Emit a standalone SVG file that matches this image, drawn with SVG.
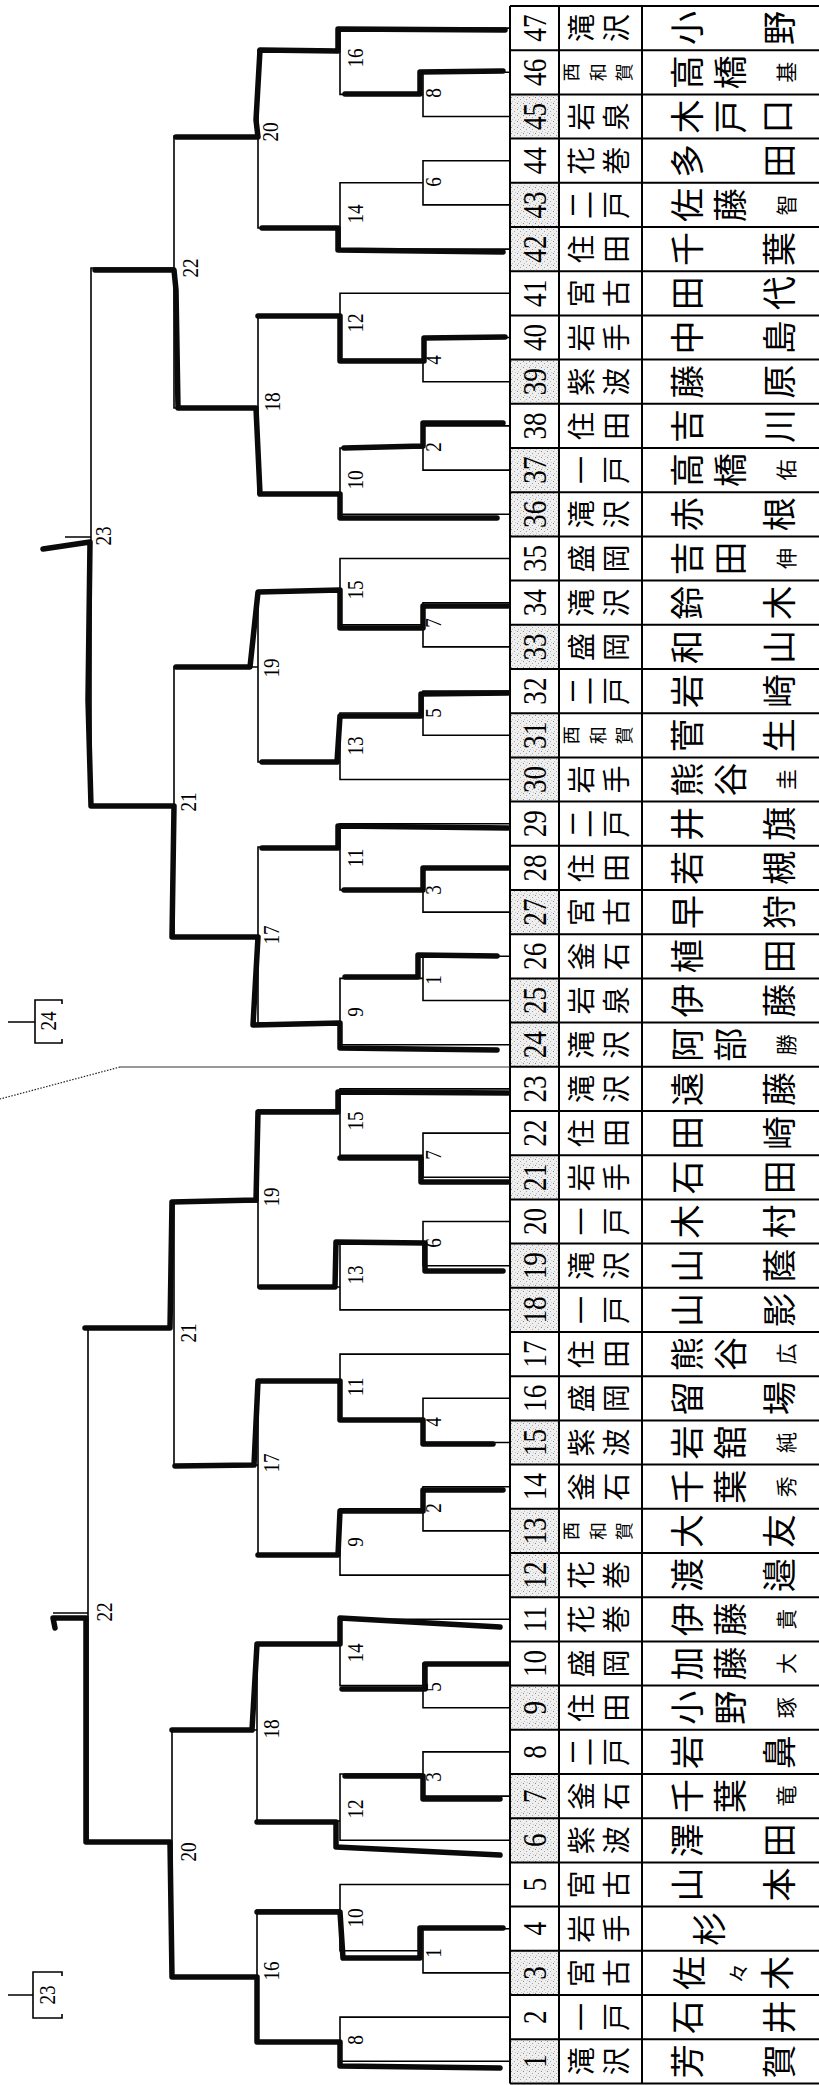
<svg xmlns="http://www.w3.org/2000/svg" width="819" height="2085" viewBox="0 0 819 2085">
<defs>
<pattern id="stip" width="6" height="6" patternUnits="userSpaceOnUse"><rect width="6" height="6" fill="#efefef"/><rect x="1" y="1" width="1" height="1" fill="#8a8a8a"/><rect x="4" y="3" width="1" height="1" fill="#a5a5a5"/><rect x="2" y="5" width="1" height="1" fill="#bdbdbd"/><rect x="5" y="0" width="1" height="1" fill="#c8c8c8"/></pattern>
<style>
.t{stroke:#000;stroke-width:1.6;fill:none}
.k{stroke:#0a0a0a;stroke-width:5.5;fill:none;stroke-linecap:round;stroke-linejoin:round}
.g{stroke:#000;stroke-width:2;fill:none}
.lb{font-family:"Liberation Serif",serif;font-size:24px;text-anchor:middle;dominant-baseline:central;fill:#000}
.no{font-family:"Liberation Serif",serif;font-size:34px;text-anchor:middle;dominant-baseline:central;fill:#000}
.s{font-family:"Noto Sans CJK JP",sans-serif;font-size:28px;text-anchor:middle;dominant-baseline:central;fill:#000}
.s3{font-family:"Noto Sans CJK JP",sans-serif;font-size:18px;text-anchor:middle;dominant-baseline:central;fill:#000}
.m{font-family:"Noto Sans CJK JP",sans-serif;font-size:34px;text-anchor:middle;dominant-baseline:central;fill:#000}
.ms{font-family:"Noto Sans CJK JP",sans-serif;font-size:21px;text-anchor:middle;dominant-baseline:central;fill:#000}
</style>
</defs>
<rect width="819" height="2085" fill="#fff"/>

<g id="table">
<g id="shade" fill="url(#stip)">
<rect x="510" y="94.4" width="49" height="44.2"/><rect x="510" y="182.8" width="49" height="88.4"/><rect x="510" y="359.6" width="49" height="44.2"/><rect x="510" y="448" width="49" height="88.4"/><rect x="510" y="624.8" width="49" height="44.2"/><rect x="510" y="713.2" width="49" height="88.4"/><rect x="510" y="890" width="49" height="44.2"/><rect x="510" y="978.4" width="49" height="88.4"/><rect x="510" y="1155.2" width="49" height="44.2"/><rect x="510" y="1243.6" width="49" height="88.4"/><rect x="510" y="1420.4" width="49" height="44.2"/><rect x="510" y="1508.8" width="49" height="88.4"/><rect x="510" y="1685.6" width="49" height="44.2"/><rect x="510" y="1774" width="49" height="88.4"/><rect x="510" y="1951" width="49" height="44.2"/><rect x="510" y="2039.2" width="49" height="44.2"/>
</g>
<path class="g" d="M510,6H819M510,50.2H819M510,94.4H819M510,138.6H819M510,182.8H819M510,227H819M510,271.2H819M510,315.4H819M510,359.6H819M510,403.8H819M510,448H819M510,492.2H819M510,536.4H819M510,580.6H819M510,624.8H819M510,669H819M510,713.2H819M510,757.4H819M510,801.6H819M510,845.8H819M510,890H819M510,934.2H819M510,978.4H819M510,1022.6H819M510,1066.8H819M510,1111H819M510,1155.2H819M510,1199.4H819M510,1243.6H819M510,1287.8H819M510,1332H819M510,1376.2H819M510,1420.4H819M510,1464.6H819M510,1508.8H819M510,1553H819M510,1597.2H819M510,1641.4H819M510,1685.6H819M510,1729.8H819M510,1774H819M510,1818.2H819M510,1862.4H819M510,1906.6H819M510,1950.8H819M510,1995H819M510,2039.2H819M510,2083.4H819M510,6V2083.4M559,6V2083.4M642,6V2083.4"/>
</g>

<g id="e47" transform="translate(0,28.1)"><text class="no" transform="translate(534.5) rotate(-90) scale(.8,1)">47</text><text class="s" transform="translate(580) rotate(-90)">滝</text><text class="s" transform="translate(615) rotate(-90)">沢</text><text class="m" transform="translate(685) rotate(-90)">小</text><text class="m" transform="translate(777) rotate(-90)">野</text></g>
<g id="e46" transform="translate(0,72.3)"><text class="no" transform="translate(534.5) rotate(-90) scale(.8,1)">46</text><text class="s3" transform="translate(570) rotate(-90)">西</text><text class="s3" transform="translate(597) rotate(-90)">和</text><text class="s3" transform="translate(623) rotate(-90)">賀</text><text class="m" transform="translate(685) rotate(-90)">高</text><text class="m" transform="translate(728) rotate(-90)">橋</text><text class="ms" transform="translate(785) rotate(-90)">基</text></g>
<g id="e45" transform="translate(0,116.5)"><text class="no" transform="translate(534.5) rotate(-90) scale(.8,1)">45</text><text class="s" transform="translate(580) rotate(-90)">岩</text><text class="s" transform="translate(615) rotate(-90)">泉</text><text class="m" transform="translate(685) rotate(-90)">木</text><text class="m" transform="translate(728) rotate(-90)">戸</text><text class="m" transform="translate(775) rotate(-90)">口</text></g>
<g id="e44" transform="translate(0,160.7)"><text class="no" transform="translate(534.5) rotate(-90) scale(.8,1)">44</text><text class="s" transform="translate(580) rotate(-90)">花</text><text class="s" transform="translate(615) rotate(-90)">巻</text><text class="m" transform="translate(685) rotate(-90)">多</text><text class="m" transform="translate(777) rotate(-90)">田</text></g>
<g id="e43" transform="translate(0,204.9)"><text class="no" transform="translate(534.5) rotate(-90) scale(.8,1)">43</text><text class="s" transform="translate(580) rotate(-90)">二</text><text class="s" transform="translate(615) rotate(-90)">戸</text><text class="m" transform="translate(685) rotate(-90)">佐</text><text class="m" transform="translate(728) rotate(-90)">藤</text><text class="ms" transform="translate(785) rotate(-90)">智</text></g>
<g id="e42" transform="translate(0,249.1)"><text class="no" transform="translate(534.5) rotate(-90) scale(.8,1)">42</text><text class="s" transform="translate(580) rotate(-90)">住</text><text class="s" transform="translate(615) rotate(-90)">田</text><text class="m" transform="translate(685) rotate(-90)">千</text><text class="m" transform="translate(777) rotate(-90)">葉</text></g>
<g id="e41" transform="translate(0,293.3)"><text class="no" transform="translate(534.5) rotate(-90) scale(.8,1)">41</text><text class="s" transform="translate(580) rotate(-90)">宮</text><text class="s" transform="translate(615) rotate(-90)">古</text><text class="m" transform="translate(685) rotate(-90)">田</text><text class="m" transform="translate(777) rotate(-90)">代</text></g>
<g id="e40" transform="translate(0,337.5)"><text class="no" transform="translate(534.5) rotate(-90) scale(.8,1)">40</text><text class="s" transform="translate(580) rotate(-90)">岩</text><text class="s" transform="translate(615) rotate(-90)">手</text><text class="m" transform="translate(685) rotate(-90)">中</text><text class="m" transform="translate(777) rotate(-90)">島</text></g>
<g id="e39" transform="translate(0,381.7)"><text class="no" transform="translate(534.5) rotate(-90) scale(.8,1)">39</text><text class="s" transform="translate(580) rotate(-90)">紫</text><text class="s" transform="translate(615) rotate(-90)">波</text><text class="m" transform="translate(685) rotate(-90)">藤</text><text class="m" transform="translate(777) rotate(-90)">原</text></g>
<g id="e38" transform="translate(0,425.9)"><text class="no" transform="translate(534.5) rotate(-90) scale(.8,1)">38</text><text class="s" transform="translate(580) rotate(-90)">住</text><text class="s" transform="translate(615) rotate(-90)">田</text><text class="m" transform="translate(685) rotate(-90)">吉</text><text class="m" transform="translate(777) rotate(-90)">川</text></g>
<g id="e37" transform="translate(0,470.1)"><text class="no" transform="translate(534.5) rotate(-90) scale(.8,1)">37</text><text class="s" transform="translate(580) rotate(-90)">一</text><text class="s" transform="translate(615) rotate(-90)">戸</text><text class="m" transform="translate(685) rotate(-90)">高</text><text class="m" transform="translate(728) rotate(-90)">橋</text><text class="ms" transform="translate(785) rotate(-90)">佑</text></g>
<g id="e36" transform="translate(0,514.3)"><text class="no" transform="translate(534.5) rotate(-90) scale(.8,1)">36</text><text class="s" transform="translate(580) rotate(-90)">滝</text><text class="s" transform="translate(615) rotate(-90)">沢</text><text class="m" transform="translate(685) rotate(-90)">赤</text><text class="m" transform="translate(777) rotate(-90)">根</text></g>
<g id="e35" transform="translate(0,558.5)"><text class="no" transform="translate(534.5) rotate(-90) scale(.8,1)">35</text><text class="s" transform="translate(580) rotate(-90)">盛</text><text class="s" transform="translate(615) rotate(-90)">岡</text><text class="m" transform="translate(685) rotate(-90)">吉</text><text class="m" transform="translate(728) rotate(-90)">田</text><text class="ms" transform="translate(785) rotate(-90)">伸</text></g>
<g id="e34" transform="translate(0,602.7)"><text class="no" transform="translate(534.5) rotate(-90) scale(.8,1)">34</text><text class="s" transform="translate(580) rotate(-90)">滝</text><text class="s" transform="translate(615) rotate(-90)">沢</text><text class="m" transform="translate(685) rotate(-90)">鈴</text><text class="m" transform="translate(777) rotate(-90)">木</text></g>
<g id="e33" transform="translate(0,646.9)"><text class="no" transform="translate(534.5) rotate(-90) scale(.8,1)">33</text><text class="s" transform="translate(580) rotate(-90)">盛</text><text class="s" transform="translate(615) rotate(-90)">岡</text><text class="m" transform="translate(685) rotate(-90)">和</text><text class="m" transform="translate(777) rotate(-90)">山</text></g>
<g id="e32" transform="translate(0,691.1)"><text class="no" transform="translate(534.5) rotate(-90) scale(.8,1)">32</text><text class="s" transform="translate(580) rotate(-90)">二</text><text class="s" transform="translate(615) rotate(-90)">戸</text><text class="m" transform="translate(685) rotate(-90)">岩</text><text class="m" transform="translate(777) rotate(-90)">崎</text></g>
<g id="e31" transform="translate(0,735.3)"><text class="no" transform="translate(534.5) rotate(-90) scale(.8,1)">31</text><text class="s3" transform="translate(570) rotate(-90)">西</text><text class="s3" transform="translate(597) rotate(-90)">和</text><text class="s3" transform="translate(623) rotate(-90)">賀</text><text class="m" transform="translate(685) rotate(-90)">菅</text><text class="m" transform="translate(777) rotate(-90)">生</text></g>
<g id="e30" transform="translate(0,779.5)"><text class="no" transform="translate(534.5) rotate(-90) scale(.8,1)">30</text><text class="s" transform="translate(580) rotate(-90)">岩</text><text class="s" transform="translate(615) rotate(-90)">手</text><text class="m" transform="translate(685) rotate(-90)">熊</text><text class="m" transform="translate(728) rotate(-90)">谷</text><text class="ms" transform="translate(785) rotate(-90)">圭</text></g>
<g id="e29" transform="translate(0,823.7)"><text class="no" transform="translate(534.5) rotate(-90) scale(.8,1)">29</text><text class="s" transform="translate(580) rotate(-90)">二</text><text class="s" transform="translate(615) rotate(-90)">戸</text><text class="m" transform="translate(685) rotate(-90)">井</text><text class="m" transform="translate(777) rotate(-90)">旗</text></g>
<g id="e28" transform="translate(0,867.9)"><text class="no" transform="translate(534.5) rotate(-90) scale(.8,1)">28</text><text class="s" transform="translate(580) rotate(-90)">住</text><text class="s" transform="translate(615) rotate(-90)">田</text><text class="m" transform="translate(685) rotate(-90)">若</text><text class="m" transform="translate(777) rotate(-90)">槻</text></g>
<g id="e27" transform="translate(0,912.1)"><text class="no" transform="translate(534.5) rotate(-90) scale(.8,1)">27</text><text class="s" transform="translate(580) rotate(-90)">宮</text><text class="s" transform="translate(615) rotate(-90)">古</text><text class="m" transform="translate(685) rotate(-90)">早</text><text class="m" transform="translate(777) rotate(-90)">狩</text></g>
<g id="e26" transform="translate(0,956.3)"><text class="no" transform="translate(534.5) rotate(-90) scale(.8,1)">26</text><text class="s" transform="translate(580) rotate(-90)">釜</text><text class="s" transform="translate(615) rotate(-90)">石</text><text class="m" transform="translate(685) rotate(-90)">植</text><text class="m" transform="translate(777) rotate(-90)">田</text></g>
<g id="e25" transform="translate(0,1000.5)"><text class="no" transform="translate(534.5) rotate(-90) scale(.8,1)">25</text><text class="s" transform="translate(580) rotate(-90)">岩</text><text class="s" transform="translate(615) rotate(-90)">泉</text><text class="m" transform="translate(685) rotate(-90)">伊</text><text class="m" transform="translate(777) rotate(-90)">藤</text></g>
<g id="e24" transform="translate(0,1044.7)"><text class="no" transform="translate(534.5) rotate(-90) scale(.8,1)">24</text><text class="s" transform="translate(580) rotate(-90)">滝</text><text class="s" transform="translate(615) rotate(-90)">沢</text><text class="m" transform="translate(685) rotate(-90)">阿</text><text class="m" transform="translate(728) rotate(-90)">部</text><text class="ms" transform="translate(785) rotate(-90)">勝</text></g>
<g id="e23" transform="translate(0,1088.9)"><text class="no" transform="translate(534.5) rotate(-90) scale(.8,1)">23</text><text class="s" transform="translate(580) rotate(-90)">滝</text><text class="s" transform="translate(615) rotate(-90)">沢</text><text class="m" transform="translate(685) rotate(-90)">遠</text><text class="m" transform="translate(777) rotate(-90)">藤</text></g>
<g id="e22" transform="translate(0,1133.1)"><text class="no" transform="translate(534.5) rotate(-90) scale(.8,1)">22</text><text class="s" transform="translate(580) rotate(-90)">住</text><text class="s" transform="translate(615) rotate(-90)">田</text><text class="m" transform="translate(685) rotate(-90)">田</text><text class="m" transform="translate(777) rotate(-90)">崎</text></g>
<g id="e21" transform="translate(0,1177.3)"><text class="no" transform="translate(534.5) rotate(-90) scale(.8,1)">21</text><text class="s" transform="translate(580) rotate(-90)">岩</text><text class="s" transform="translate(615) rotate(-90)">手</text><text class="m" transform="translate(685) rotate(-90)">石</text><text class="m" transform="translate(777) rotate(-90)">田</text></g>
<g id="e20" transform="translate(0,1221.5)"><text class="no" transform="translate(534.5) rotate(-90) scale(.8,1)">20</text><text class="s" transform="translate(580) rotate(-90)">一</text><text class="s" transform="translate(615) rotate(-90)">戸</text><text class="m" transform="translate(685) rotate(-90)">木</text><text class="m" transform="translate(777) rotate(-90)">村</text></g>
<g id="e19" transform="translate(0,1265.7)"><text class="no" transform="translate(534.5) rotate(-90) scale(.8,1)">19</text><text class="s" transform="translate(580) rotate(-90)">滝</text><text class="s" transform="translate(615) rotate(-90)">沢</text><text class="m" transform="translate(685) rotate(-90)">山</text><text class="m" transform="translate(777) rotate(-90)">蔭</text></g>
<g id="e18" transform="translate(0,1309.9)"><text class="no" transform="translate(534.5) rotate(-90) scale(.8,1)">18</text><text class="s" transform="translate(580) rotate(-90)">一</text><text class="s" transform="translate(615) rotate(-90)">戸</text><text class="m" transform="translate(685) rotate(-90)">山</text><text class="m" transform="translate(777) rotate(-90)">影</text></g>
<g id="e17" transform="translate(0,1354.1)"><text class="no" transform="translate(534.5) rotate(-90) scale(.8,1)">17</text><text class="s" transform="translate(580) rotate(-90)">住</text><text class="s" transform="translate(615) rotate(-90)">田</text><text class="m" transform="translate(685) rotate(-90)">熊</text><text class="m" transform="translate(728) rotate(-90)">谷</text><text class="ms" transform="translate(785) rotate(-90)">広</text></g>
<g id="e16" transform="translate(0,1398.3)"><text class="no" transform="translate(534.5) rotate(-90) scale(.8,1)">16</text><text class="s" transform="translate(580) rotate(-90)">盛</text><text class="s" transform="translate(615) rotate(-90)">岡</text><text class="m" transform="translate(685) rotate(-90)">留</text><text class="m" transform="translate(777) rotate(-90)">場</text></g>
<g id="e15" transform="translate(0,1442.5)"><text class="no" transform="translate(534.5) rotate(-90) scale(.8,1)">15</text><text class="s" transform="translate(580) rotate(-90)">紫</text><text class="s" transform="translate(615) rotate(-90)">波</text><text class="m" transform="translate(685) rotate(-90)">岩</text><text class="m" transform="translate(728) rotate(-90)">舘</text><text class="ms" transform="translate(785) rotate(-90)">純</text></g>
<g id="e14" transform="translate(0,1486.7)"><text class="no" transform="translate(534.5) rotate(-90) scale(.8,1)">14</text><text class="s" transform="translate(580) rotate(-90)">釜</text><text class="s" transform="translate(615) rotate(-90)">石</text><text class="m" transform="translate(685) rotate(-90)">千</text><text class="m" transform="translate(728) rotate(-90)">葉</text><text class="ms" transform="translate(785) rotate(-90)">秀</text></g>
<g id="e13" transform="translate(0,1530.9)"><text class="no" transform="translate(534.5) rotate(-90) scale(.8,1)">13</text><text class="s3" transform="translate(570) rotate(-90)">西</text><text class="s3" transform="translate(597) rotate(-90)">和</text><text class="s3" transform="translate(623) rotate(-90)">賀</text><text class="m" transform="translate(685) rotate(-90)">大</text><text class="m" transform="translate(777) rotate(-90)">友</text></g>
<g id="e12" transform="translate(0,1575.1)"><text class="no" transform="translate(534.5) rotate(-90) scale(.8,1)">12</text><text class="s" transform="translate(580) rotate(-90)">花</text><text class="s" transform="translate(615) rotate(-90)">巻</text><text class="m" transform="translate(685) rotate(-90)">渡</text><text class="m" transform="translate(777) rotate(-90)">邉</text></g>
<g id="e11" transform="translate(0,1619.3)"><text class="no" transform="translate(534.5) rotate(-90) scale(.8,1)">11</text><text class="s" transform="translate(580) rotate(-90)">花</text><text class="s" transform="translate(615) rotate(-90)">巻</text><text class="m" transform="translate(685) rotate(-90)">伊</text><text class="m" transform="translate(728) rotate(-90)">藤</text><text class="ms" transform="translate(785) rotate(-90)">貴</text></g>
<g id="e10" transform="translate(0,1663.5)"><text class="no" transform="translate(534.5) rotate(-90) scale(.8,1)">10</text><text class="s" transform="translate(580) rotate(-90)">盛</text><text class="s" transform="translate(615) rotate(-90)">岡</text><text class="m" transform="translate(685) rotate(-90)">加</text><text class="m" transform="translate(728) rotate(-90)">藤</text><text class="ms" transform="translate(785) rotate(-90)">大</text></g>
<g id="e9" transform="translate(0,1707.7)"><text class="no" transform="translate(534.5) rotate(-90) scale(.8,1)">9</text><text class="s" transform="translate(580) rotate(-90)">住</text><text class="s" transform="translate(615) rotate(-90)">田</text><text class="m" transform="translate(685) rotate(-90)">小</text><text class="m" transform="translate(728) rotate(-90)">野</text><text class="ms" transform="translate(785) rotate(-90)">琢</text></g>
<g id="e8" transform="translate(0,1751.9)"><text class="no" transform="translate(534.5) rotate(-90) scale(.8,1)">8</text><text class="s" transform="translate(580) rotate(-90)">二</text><text class="s" transform="translate(615) rotate(-90)">戸</text><text class="m" transform="translate(685) rotate(-90)">岩</text><text class="m" transform="translate(777) rotate(-90)">鼻</text></g>
<g id="e7" transform="translate(0,1796.1)"><text class="no" transform="translate(534.5) rotate(-90) scale(.8,1)">7</text><text class="s" transform="translate(580) rotate(-90)">釜</text><text class="s" transform="translate(615) rotate(-90)">石</text><text class="m" transform="translate(685) rotate(-90)">千</text><text class="m" transform="translate(728) rotate(-90)">葉</text><text class="ms" transform="translate(785) rotate(-90)">竜</text></g>
<g id="e6" transform="translate(0,1840.3)"><text class="no" transform="translate(534.5) rotate(-90) scale(.8,1)">6</text><text class="s" transform="translate(580) rotate(-90)">紫</text><text class="s" transform="translate(615) rotate(-90)">波</text><text class="m" transform="translate(685) rotate(-90)">澤</text><text class="m" transform="translate(777) rotate(-90)">田</text></g>
<g id="e5" transform="translate(0,1884.5)"><text class="no" transform="translate(534.5) rotate(-90) scale(.8,1)">5</text><text class="s" transform="translate(580) rotate(-90)">宮</text><text class="s" transform="translate(615) rotate(-90)">古</text><text class="m" transform="translate(685) rotate(-90)">山</text><text class="m" transform="translate(777) rotate(-90)">本</text></g>
<g id="e4" transform="translate(0,1928.7)"><text class="no" transform="translate(534.5) rotate(-90) scale(.8,1)">4</text><text class="s" transform="translate(580) rotate(-90)">岩</text><text class="s" transform="translate(615) rotate(-90)">手</text><text class="m" transform="translate(707) rotate(-90)">杉</text></g>
<g id="e3" transform="translate(0,1972.9)"><text class="no" transform="translate(534.5) rotate(-90) scale(.8,1)">3</text><text class="s" transform="translate(580) rotate(-90)">宮</text><text class="s" transform="translate(615) rotate(-90)">古</text><text class="m" transform="translate(687) rotate(-90)">佐</text><text class="ms" transform="translate(737) rotate(-90)">々</text><text class="m" transform="translate(775) rotate(-90)">木</text></g>
<g id="e2" transform="translate(0,2017.1)"><text class="no" transform="translate(534.5) rotate(-90) scale(.8,1)">2</text><text class="s" transform="translate(580) rotate(-90)">一</text><text class="s" transform="translate(615) rotate(-90)">戸</text><text class="m" transform="translate(685) rotate(-90)">石</text><text class="m" transform="translate(777) rotate(-90)">井</text></g>
<g id="e1" transform="translate(0,2061.3)"><text class="no" transform="translate(534.5) rotate(-90) scale(.8,1)">1</text><text class="s" transform="translate(580) rotate(-90)">滝</text><text class="s" transform="translate(615) rotate(-90)">沢</text><text class="m" transform="translate(685) rotate(-90)">芳</text><text class="m" transform="translate(777) rotate(-90)">賀</text></g>

<g id="connectors">
<path class="t" d="M510,28.1H340V94.4H423M510,72.3H423V116.5H510M340,50H258V228H340M423,182.8H340V249.1H510M510,160.7H423V204.9H510M258,136H174V408H258M174,268H91V806H174M91,537H65M340,316H258V494H340M510,293.3H340V359.6H423M510,337.5H423V381.7H510M423,448H340V514.3H510M510,425.9H423V470.1H510M258,667H174V937H258M340,592H258V762H340M510,558.5H340V624.8H423M510,602.7H423V646.9H510M423,713H340V779.5H510M510,691.1H423V735.3H510M340,847H258V1023H340M510,823.7H340V890H423M510,867.9H423V912.1H510M423,978.4H340V1044.7H510M510,956.3H423V1000.5H510"/>
<path class="t" d="M172,1328H88V1842H172M88,1613H53M258,1202H174V1465H258M340,1110H258V1287H340M510,1088.9H340V1155.2H423M510,1133.1H423V1177.3H510M423,1243.6H340V1309.9H510M510,1221.5H423V1265.7H510M340,1381H258V1555H340M510,1354.1H340V1420.4H423M510,1398.3H423V1442.5H510M423,1508.8H340V1575.1H510M510,1486.7H423V1530.9H510M257,1730H172V1977H257M340,1643H257V1821H340M510,1619.3H340V1685.6H423M510,1663.5H423V1707.7H510M423,1774H340V1840.3H510M510,1751.9H423V1796.1H510M340,1910H257V2041H340M510,1884.5H340V1950.8H423M510,1928.7H423V1972.9H510M510,2017.1H340V2061.3H510"/>
<path d="M120,1067H510" stroke="#333" stroke-width="1" fill="none"/>
<path d="M120,1067L0,1099" stroke="#222" stroke-width="1.2" stroke-dasharray="1.5,1.5" fill="none"/>
<path class="k" d="M505,30L338,29L338,51L260,50L256,120L258,137L176,137"/>
<path class="k" d="M503,71L420,72L420,94L345,94"/>
<path class="k" d="M503,252L338,250L338,228L262,228"/>
<path class="k" d="M505,337L424,338L424,361L340,361L340,316L258,316"/>
<path class="k" d="M503,423L423,423L423,446L344,448"/>
<path class="k" d="M497,518L340,518L340,494L260,494L256,408L178,408L176,290L174,270L95,270"/>
<path class="k" d="M508,606L423,606L423,628L340,628L340,590L258,592L250,667L176,667"/>
<path class="k" d="M508,693L421,694L421,716L340,716L337,762L262,762"/>
<path class="k" d="M508,828L338,826L338,848L262,848"/>
<path class="k" d="M508,868L423,868L423,890L344,890"/>
<path class="k" d="M497,956L418,955L418,977L345,977"/>
<path class="k" d="M497,1050L340,1048L340,1023L253,1025L258,937L172,937L174,806L91,806L88,700L90,542L43,549"/>
<path class="k" d="M508,1093L338,1092L338,1112L258,1112L256,1200L172,1202L170,1328L85,1328"/>
<path class="k" d="M508,1182L421,1182L421,1158L340,1158"/>
<path class="k" d="M503,1271L425,1271L425,1243L336,1242L335,1287L260,1287"/>
<path class="k" d="M493,1444L423,1444L423,1420L340,1420L340,1381L258,1381L254,1465L175,1466"/>
<path class="k" d="M503,1490L423,1490L423,1511L340,1511L338,1555L258,1555"/>
<path class="k" d="M500,1627L340,1618L340,1644L257,1644L252,1730L172,1730"/>
<path class="k" d="M508,1664L425,1664L425,1689L342,1689"/>
<path class="k" d="M500,1799L423,1799L423,1776L345,1776"/>
<path class="k" d="M500,1855L336,1847L336,1822L257,1822"/>
<path class="k" d="M503,1928L420,1928L420,1958L343,1958L340,1912L257,1912"/>
<path class="k" d="M500,2068L340,2066L340,2042L257,2042L257,1977L172,1977L170,1842L86,1842L86,1618L53,1618L55,1628"/>
</g>

<g id="labels">
<text class="lb" transform="translate(355,58) rotate(-90) scale(.8,1)">16</text>
<text class="lb" transform="translate(433,93) rotate(-90) scale(.8,1)">8</text>
<text class="lb" transform="translate(270,132) rotate(-90) scale(.8,1)">20</text>
<text class="lb" transform="translate(433,182) rotate(-90) scale(.8,1)">6</text>
<text class="lb" transform="translate(355,214) rotate(-90) scale(.8,1)">14</text>
<text class="lb" transform="translate(190,268) rotate(-90) scale(.8,1)">22</text>
<text class="lb" transform="translate(355,323) rotate(-90) scale(.8,1)">12</text>
<text class="lb" transform="translate(433,360) rotate(-90) scale(.8,1)">4</text>
<text class="lb" transform="translate(272,402) rotate(-90) scale(.8,1)">18</text>
<text class="lb" transform="translate(433,447) rotate(-90) scale(.8,1)">2</text>
<text class="lb" transform="translate(355,480) rotate(-90) scale(.8,1)">10</text>
<text class="lb" transform="translate(103,536) rotate(-90) scale(.8,1)">23</text>
<text class="lb" transform="translate(355,590) rotate(-90) scale(.8,1)">15</text>
<text class="lb" transform="translate(433,623) rotate(-90) scale(.8,1)">7</text>
<text class="lb" transform="translate(271,668) rotate(-90) scale(.8,1)">19</text>
<text class="lb" transform="translate(433,713) rotate(-90) scale(.8,1)">5</text>
<text class="lb" transform="translate(355,746) rotate(-90) scale(.8,1)">13</text>
<text class="lb" transform="translate(188,802) rotate(-90) scale(.8,1)">21</text>
<text class="lb" transform="translate(355,858) rotate(-90) scale(.8,1)">11</text>
<text class="lb" transform="translate(433,890) rotate(-90) scale(.8,1)">3</text>
<text class="lb" transform="translate(271,935) rotate(-90) scale(.8,1)">17</text>
<text class="lb" transform="translate(433,980) rotate(-90) scale(.8,1)">1</text>
<text class="lb" transform="translate(355,1012) rotate(-90) scale(.8,1)">9</text>
<text class="lb" transform="translate(355,1121) rotate(-90) scale(.8,1)">15</text>
<text class="lb" transform="translate(433,1155) rotate(-90) scale(.8,1)">7</text>
<text class="lb" transform="translate(271,1197) rotate(-90) scale(.8,1)">19</text>
<text class="lb" transform="translate(433,1243) rotate(-90) scale(.8,1)">6</text>
<text class="lb" transform="translate(355,1275) rotate(-90) scale(.8,1)">13</text>
<text class="lb" transform="translate(188,1333) rotate(-90) scale(.8,1)">21</text>
<text class="lb" transform="translate(355,1387) rotate(-90) scale(.8,1)">11</text>
<text class="lb" transform="translate(433,1422) rotate(-90) scale(.8,1)">4</text>
<text class="lb" transform="translate(271,1463) rotate(-90) scale(.8,1)">17</text>
<text class="lb" transform="translate(433,1508) rotate(-90) scale(.8,1)">2</text>
<text class="lb" transform="translate(355,1542) rotate(-90) scale(.8,1)">9</text>
<text class="lb" transform="translate(104,1612) rotate(-90) scale(.8,1)">22</text>
<text class="lb" transform="translate(355,1653) rotate(-90) scale(.8,1)">14</text>
<text class="lb" transform="translate(433,1687) rotate(-90) scale(.8,1)">5</text>
<text class="lb" transform="translate(271,1729) rotate(-90) scale(.8,1)">18</text>
<text class="lb" transform="translate(433,1777) rotate(-90) scale(.8,1)">3</text>
<text class="lb" transform="translate(355,1809) rotate(-90) scale(.8,1)">12</text>
<text class="lb" transform="translate(188,1852) rotate(-90) scale(.8,1)">20</text>
<text class="lb" transform="translate(355,1918) rotate(-90) scale(.8,1)">10</text>
<text class="lb" transform="translate(433,1953) rotate(-90) scale(.8,1)">1</text>
<text class="lb" transform="translate(271,1971) rotate(-90) scale(.8,1)">16</text>
<text class="lb" transform="translate(355,2040) rotate(-90) scale(.8,1)">8</text>
</g>

<g id="box24">
<path class="t" d="M8,1022H35M62,1004V1000H35V1043H62V1039"/>
<text class="lb" transform="translate(48,1021) rotate(-90) scale(.8,1)">24</text>
</g>
<g id="box23">
<path class="t" d="M8,1995H33M62,1976V1972H33V2018H62V2014"/>
<text class="lb" transform="translate(47,1995) rotate(-90) scale(.8,1)">23</text>
</g>
</svg>
